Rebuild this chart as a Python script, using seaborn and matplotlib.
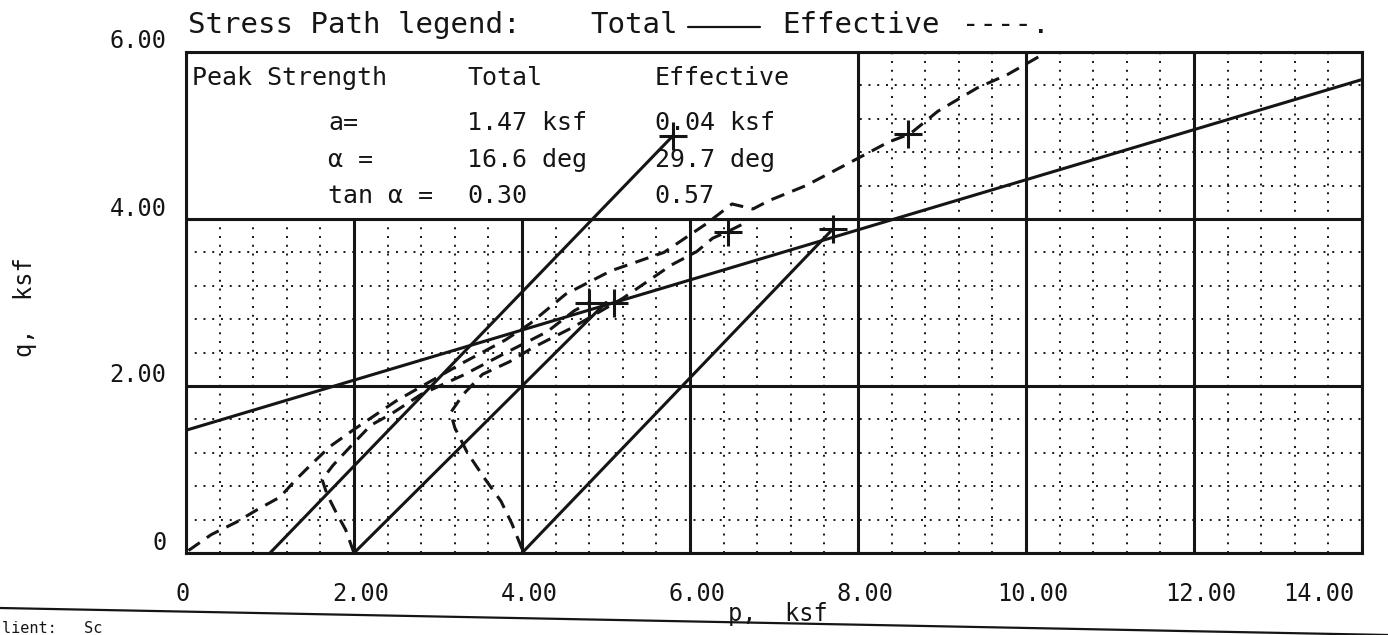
import numpy as np
import pandas as pd
import matplotlib
matplotlib.use("Agg")
import matplotlib.pyplot as plt
import seaborn as sns
from matplotlib.patches import Rectangle
from matplotlib.lines import Line2D
from matplotlib.transforms import ScaledTranslation

# ---------------- data ----------------
p_ticks = [0, 2, 4, 6, 8, 10, 12, 14]
p_tick_labels = ["0", "2.00", "4.00", "6.00", "8.00", "10.00", "12.00", "14.00"]
q_ticks = [0, 2, 4, 6]
q_tick_labels = ["0", "2.00", "4.00", "6.00"]

# total-stress strength envelope (a = 1.47 ksf, tan alpha = 0.30)
env_p = [0.0, 14.0]
env_q = [1.47, 5.67]

# total stress paths (solid)
tot1_p = [1.0, 5.8]
tot1_q = [0.0, 5.0]
tot2_p = [2.0, 5.0]
tot2_q = [0.0, 3.0]
tot3_p = [4.0, 7.7]
tot3_q = [0.0, 3.88]

# effective stress paths (dashed)
eff1_p = [0.03, 0.3, 0.6, 0.85, 1.12, 1.3, 1.5, 1.72, 2.0, 2.25, 2.5, 2.9, 3.3, 3.8,
          4.1, 4.52, 5.06, 5.69, 6.19, 6.5, 6.75, 6.94, 7.38, 7.93, 8.36, 8.62, 8.95,
          9.42, 9.78, 10.25]
eff1_q = [0.03, 0.22, 0.37, 0.52, 0.67, 0.87, 1.07, 1.28, 1.48, 1.65, 1.82, 2.05, 2.28, 2.55,
          2.75, 3.1, 3.38, 3.6, 3.94, 4.18, 4.12, 4.22, 4.4, 4.69, 4.92, 5.02, 5.29,
          5.57, 5.73, 6.0]
eff2_p = [2.0, 1.9, 1.78, 1.68, 1.62, 1.75, 2.0, 2.2, 2.45, 2.8, 3.3, 3.85, 4.3, 4.62, 4.8]
eff2_q = [0.0, 0.28, 0.5, 0.7, 0.88, 1.05, 1.32, 1.53, 1.67, 1.9, 2.13, 2.42, 2.65, 2.9, 3.0]
eff3_p = [4.0, 3.88, 3.75, 3.55, 3.35, 3.2, 3.15, 3.3, 3.53, 3.85, 4.13, 4.6, 5.2, 5.78,
          6.08, 6.27, 6.45, 6.65]
eff3_q = [0.05, 0.35, 0.62, 0.9, 1.2, 1.5, 1.68, 1.9, 2.14, 2.29, 2.46, 2.7, 3.05, 3.45,
          3.61, 3.77, 3.85, 3.95]

# peak points (+)
peak_p = [5.8, 5.1, 7.7, 8.6, 4.8, 6.45]
peak_q = [5.0, 3.0, 3.88, 5.02, 3.0, 3.85]

# table text
table_header = ["Peak Strength", "Total", "Effective"]
row_labels = ["a=", "α =", "tan α ="]
total_values = ["1.47 ksf", "16.6 deg", "0.30"]
effective_values = ["0.04 ksf", "29.7 deg", "0.57"]

# ---------------- style ----------------
sns.set_style("white")
plt.rcParams["font.family"] = ["DejaVu Sans Mono", "DejaVu Sans"]
INK = "#151515"
W, H = 1388, 635

fig = plt.figure(figsize=(W / 100, H / 100), dpi=100)
fig.patch.set_facecolor("white")
ax = fig.add_axes([186 / W, 1 - 553 / H, 1176 / W, 501 / H])
ax.set_xlim(0, 14)
ax.set_ylim(0, 6)

# grid
minor_x = [v for v in np.arange(0, 14.001, 0.4) if abs(v / 2 - round(v / 2)) > 1e-6]
minor_y = [v for v in np.arange(0, 6.001, 0.4) if abs(v / 2 - round(v / 2)) > 1e-6]
ax.set_xticks(p_ticks)
ax.set_xticklabels(p_tick_labels)
ax.set_yticks(q_ticks)
ax.set_yticklabels(q_tick_labels)
ax.set_xticks(minor_x, minor=True)
ax.set_yticks(minor_y, minor=True)
ax.set_axisbelow(True)
ax.grid(which="major", color=INK, lw=2.2, ls="-")
ax.grid(which="minor", color=INK, lw=1.4, ls=(0, (1, 3.5)))
ax.tick_params(which="both", length=0)
ax.tick_params(axis="x", pad=21, labelsize=17, labelcolor=INK)
ax.tick_params(axis="y", pad=14, labelsize=17, labelcolor=INK)
for s in ax.spines.values():
    s.set_linewidth(2.2)
    s.set_color(INK)
    s.set_zorder(5)

# label offsets (scan layout)
for lbl in ax.get_yticklabels():
    lbl.set_transform(lbl.get_transform() + ScaledTranslation(0, 0.13, fig.dpi_scale_trans))
xl = ax.get_xticklabels()
for i, lbl in enumerate(xl):
    dx = 0.07 if 0 < i < len(xl) - 1 else -0.03
    if i == len(xl) - 1:
        lbl.set_ha("right")
        dx = -0.08
    lbl.set_transform(lbl.get_transform() + ScaledTranslation(dx, 0, fig.dpi_scale_trans))

# table box
ax.add_patch(Rectangle((0, 4), 8, 2, facecolor="white", edgecolor=INK, lw=2.2, zorder=1.5))
fs_tab = 18
ax.text(0.07, 5.6, table_header[0], fontsize=fs_tab, color=INK, va="baseline", zorder=2.5)
ax.text(3.35, 5.6, table_header[1], fontsize=fs_tab, color=INK, va="baseline", zorder=2.5)
ax.text(5.58, 5.6, table_header[2], fontsize=fs_tab, color=INK, va="baseline", zorder=2.5)
for lab, tv, ev, yy in zip(row_labels, total_values, effective_values, [5.07, 4.62, 4.19]):
    ax.text(1.69, yy, lab, fontsize=fs_tab, color=INK, va="baseline", zorder=2.5)
    ax.text(3.35, yy, tv, fontsize=fs_tab, color=INK, va="baseline", zorder=2.5)
    ax.text(5.58, yy, ev, fontsize=fs_tab, color=INK, va="baseline", zorder=2.5)

# envelope + total paths
df_tot = pd.concat([
    pd.DataFrame({"p": env_p, "q": env_q, "path": "env"}),
    pd.DataFrame({"p": tot1_p, "q": tot1_q, "path": "t1"}),
    pd.DataFrame({"p": tot2_p, "q": tot2_q, "path": "t2"}),
    pd.DataFrame({"p": tot3_p, "q": tot3_q, "path": "t3"}),
])
for name, g in df_tot.groupby("path", sort=False):
    sns.lineplot(data=g, x="p", y="q", sort=False, estimator=None, color=INK,
                 lw=2.2, ax=ax, zorder=3, legend=False)

df_eff = pd.concat([
    pd.DataFrame({"p": eff1_p, "q": eff1_q, "path": "e1"}),
    pd.DataFrame({"p": eff2_p, "q": eff2_q, "path": "e2"}),
    pd.DataFrame({"p": eff3_p, "q": eff3_q, "path": "e3"}),
])
for name, g in df_eff.groupby("path", sort=False):
    sns.lineplot(data=g, x="p", y="q", sort=False, estimator=None, color=INK,
                 lw=2.2, ls=(0, (4.5, 2.8)), ax=ax, zorder=3, legend=False)

sns.scatterplot(x=peak_p, y=peak_q, marker="+", s=380, linewidth=2.2, color=INK,
                ax=ax, zorder=4, legend=False)

ax.set_xlabel("")
ax.set_ylabel("")
ax.set_xlim(0, 14)
ax.set_ylim(0, 6)

# title legend line
fig.text(188 / W, 1 - 33 / H, "Stress Path legend:", fontsize=21, color=INK, va="baseline")
fig.text(590 / W, 1 - 33 / H, "Total", fontsize=21, color=INK, va="baseline")
fig.add_artist(Line2D([688 / W, 760 / W], [1 - 27 / H, 1 - 27 / H], color=INK, lw=1.6,
                      transform=fig.transFigure))
fig.text(782 / W, 1 - 33 / H, "Effective", fontsize=21, color=INK, va="baseline")
fig.text(962 / W, 1 - 33 / H, "----.", fontsize=21, color=INK, va="baseline")

# axis labels
fig.text(25 / W, 1 - 307 / H, "q,  ksf", rotation=90, fontsize=17, color=INK,
         ha="center", va="center")
fig.text(778 / W, 1 - 614 / H, "p,  ksf", fontsize=17, color=INK, ha="center", va="center")

# bottom separator + caption fragment
fig.add_artist(Line2D([0, 1], [1 - 608 / H, 1 - 635 / H], color=INK, lw=1.6,
                      transform=fig.transFigure))
fig.text(2 / W, 1 - 621 / H, "lient:   Sc", fontsize=11, color=INK, va="top")

fig.savefig("out.png", dpi=100, facecolor="white")
